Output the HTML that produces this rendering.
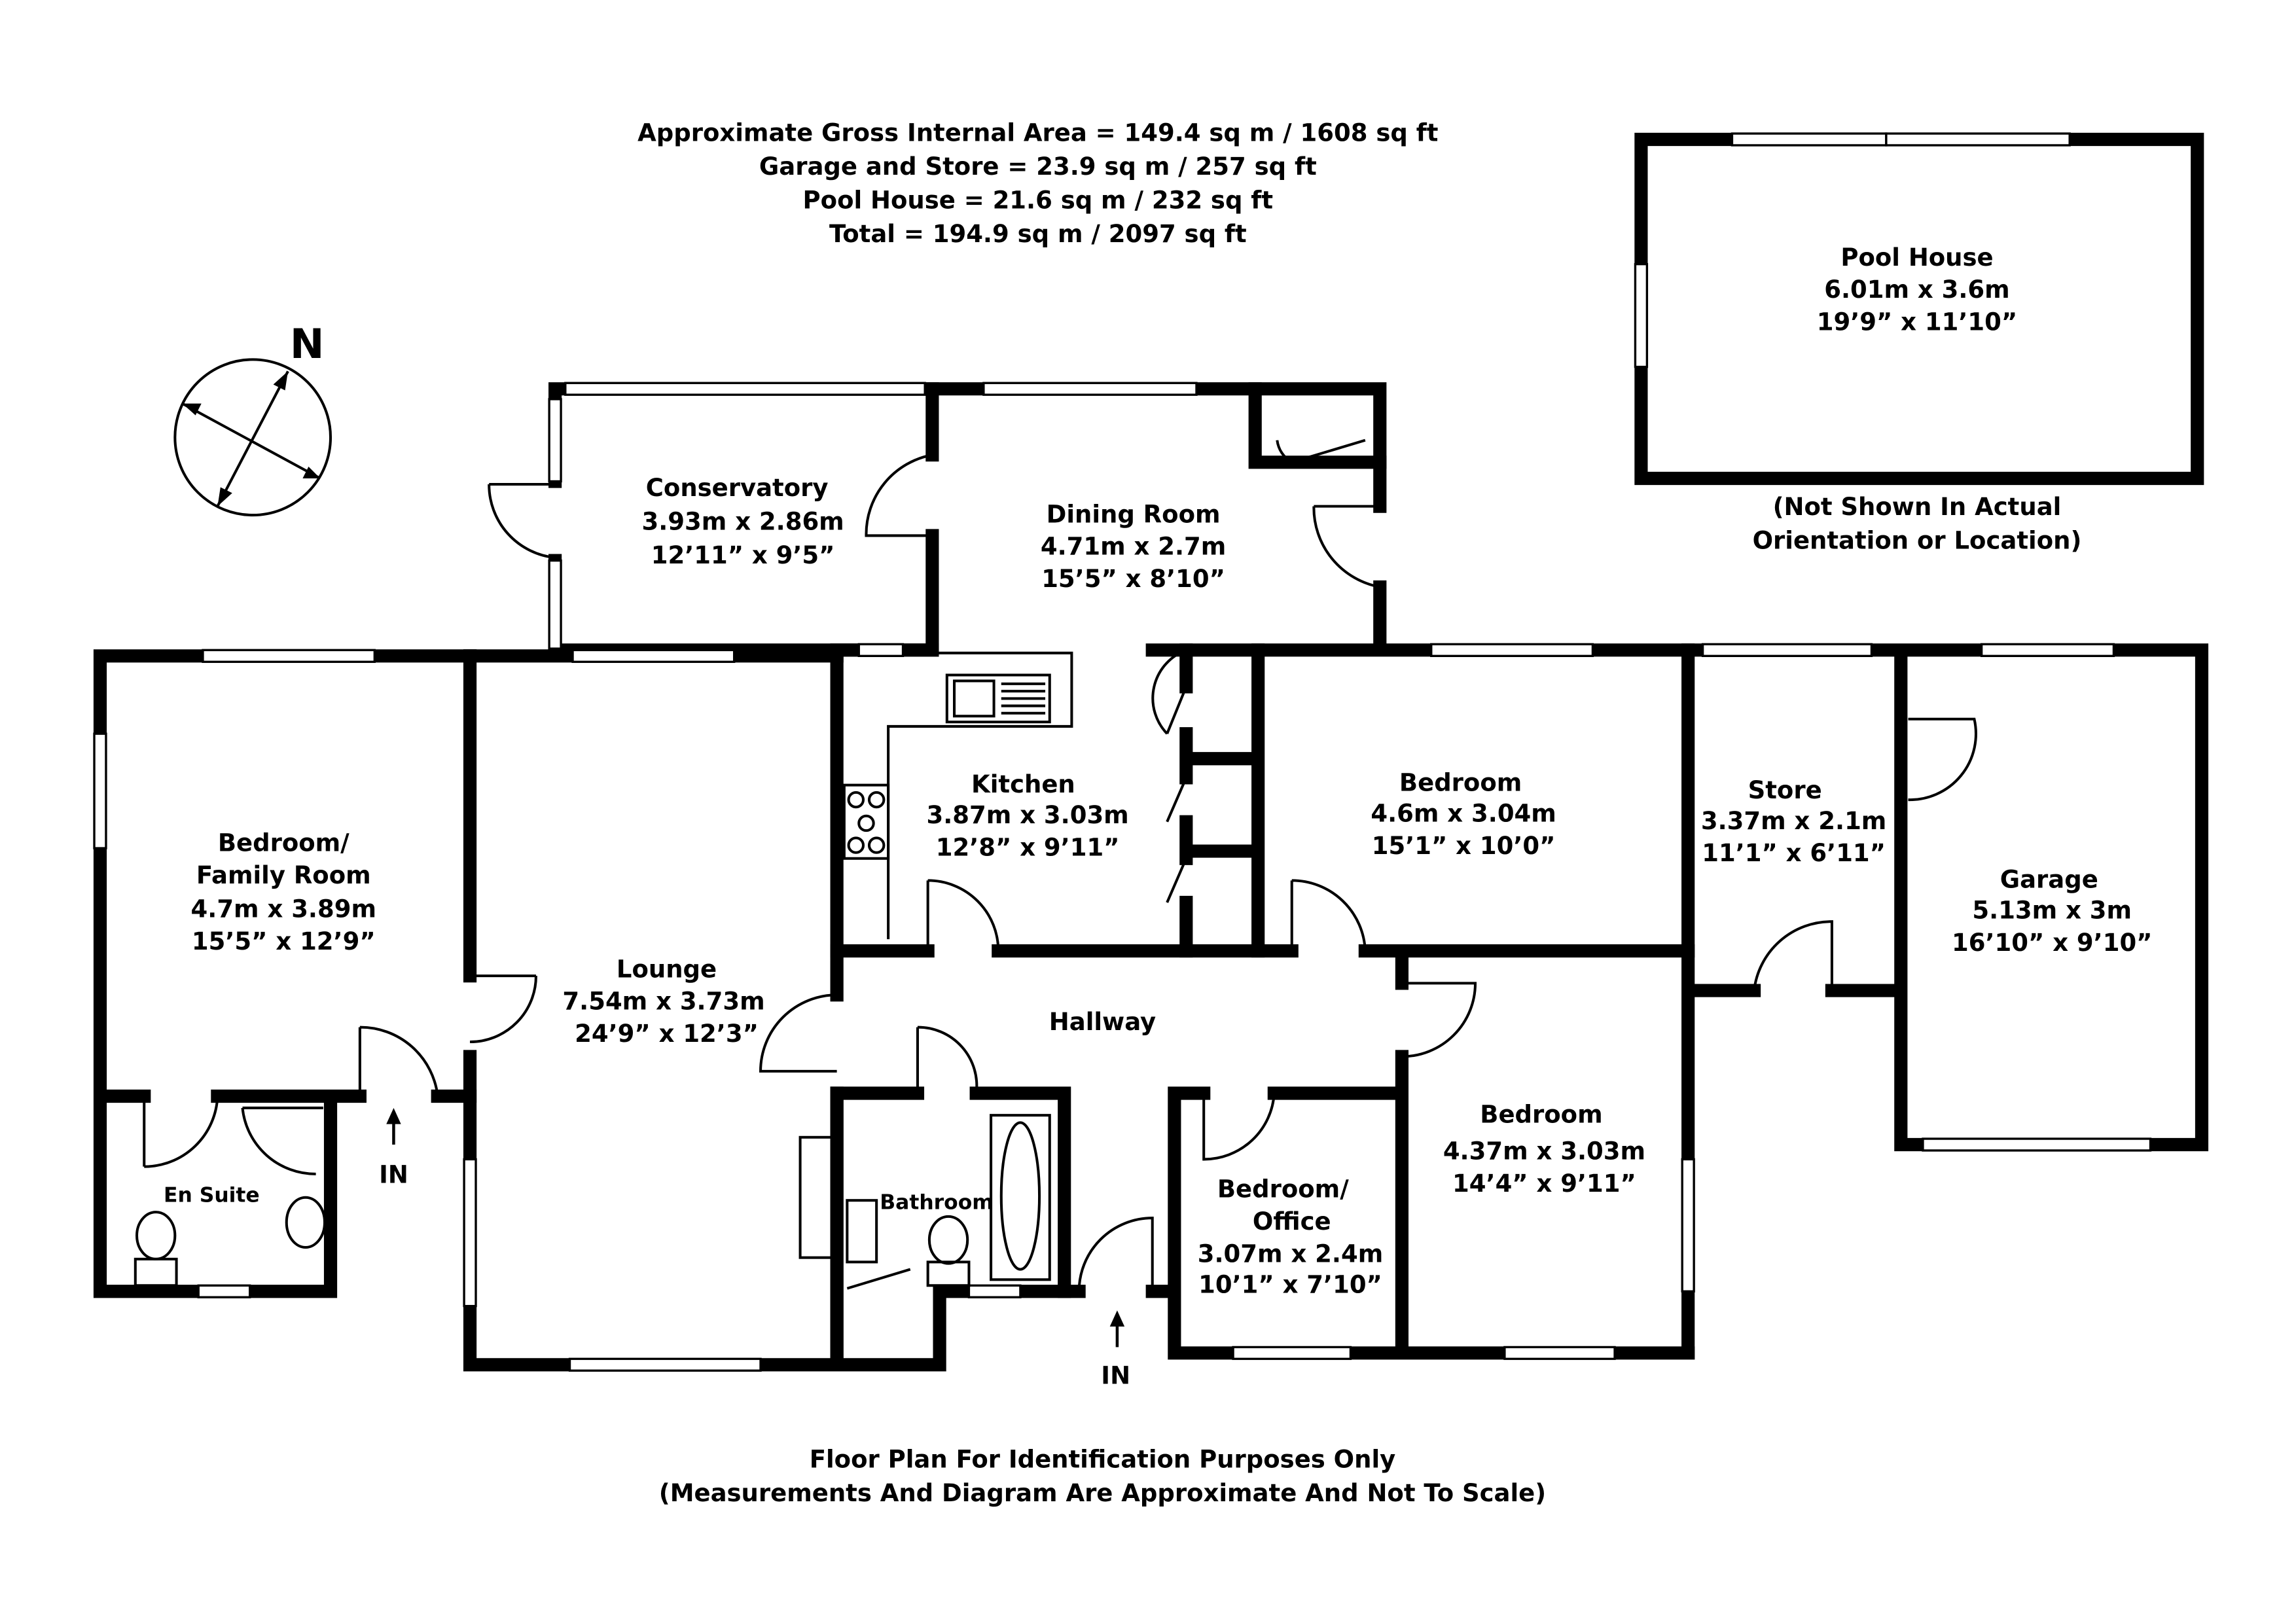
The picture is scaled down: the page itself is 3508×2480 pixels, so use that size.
<!DOCTYPE html>
<html><head><meta charset="utf-8"><style>
html,body{margin:0;padding:0;background:#fff}
svg{display:block}
text{font-family:"DejaVu Sans","Liberation Sans",sans-serif;font-weight:bold;fill:#000;text-anchor:middle}
</style></head><body>
<svg width="3508" height="2480" viewBox="0 0 1564 1106" xmlns="http://www.w3.org/2000/svg">
<rect width="1564" height="1106" fill="#fff"/>
<g stroke="#000" stroke-width="9" stroke-linecap="square" fill="none">
<path d="M68 447H320M68 447V880H225V747M68 747H98M148 747H245M298 747H320"/>
<path d="M320 447V665M320 720V930H570V745M570 447V650M570 650V678"/>
<path d="M320 447H570"/>
<path d="M378 265V328M378 382V443M378 265H635M378 443H635"/>
<path d="M635 265H940V345M940 400V443M635 265V310M635 365V443H570M785 443H1150"/>
<path d="M855 265V315H940"/>
<path d="M570 648H632M680 648H857M880 648H857M930 648H1150"/>
<path d="M857 443V648M808 443V468M808 500V530M808 560V585M808 615V648M808 517H853M808 580H853"/>
<path d="M1150 443V922M1150 675H1195M1248 675H1295M1150 443H1500V780H1295V443M1295 443V490M1295 545V675"/>
<path d="M570 745H625M665 745H725V880H640V930H570V745"/>
<path d="M725 880H735M785 880H800V922H1150M800 880V745H820M868 745H955M955 650V670M955 720V922"/>
<path d="M1118 95H1497V326H1118Z"/>
</g>
<g fill="#fff" stroke="#000" stroke-width="1.5">
<rect x="138" y="443" width="117" height="8"/>
<rect x="64" y="500" width="8" height="78"/>
<rect x="135" y="876" width="35" height="8"/>
<rect x="390" y="443" width="110" height="8"/>
<rect x="316" y="790" width="8" height="100"/>
<rect x="388" y="926" width="130" height="8"/>
<rect x="385" y="261" width="245" height="8"/>
<rect x="374" y="272" width="8" height="56"/>
<rect x="374" y="382" width="8" height="60"/>
<rect x="670" y="261" width="145" height="8"/>
<rect x="585" y="439" width="30" height="8"/>
<rect x="975" y="439" width="110" height="8"/>
<rect x="1160" y="439" width="115" height="8"/>
<rect x="1350" y="439" width="90" height="8"/>
<rect x="1310" y="776" width="155" height="8"/>
<rect x="660" y="876" width="35" height="8"/>
<rect x="840" y="918" width="80" height="8"/>
<rect x="1025" y="918" width="75" height="8"/>
<rect x="1146" y="790" width="8" height="90"/>
<rect x="1180" y="91" width="105" height="8"/>
<rect x="1285" y="91" width="125" height="8"/>
<rect x="1114" y="180" width="8" height="70"/>
</g>
<g stroke="#000" stroke-width="1.8" fill="none">
<path d="M320 665H365M365 665A45 45 0 0 1 320 710"/>
<path d="M245 700V747M245 700A53 53 0 0 1 298 747"/>
<path d="M98 747V795M98 795A50 50 0 0 0 148 747"/>
<path d="M165 755H220M165 755A50 50 0 0 0 215 800"/>
<path d="M378 330H333M333 330A50 50 0 0 0 378 380"/>
<path d="M635 310A55 55 0 0 0 590 365H635"/>
<path d="M940 345H895M895 345A55 55 0 0 0 940 400"/>
<path d="M880 315L930 300M880 315A20 20 0 0 1 870 300"/>
<path d="M632 600V648M632 600A48 48 0 0 1 680 648"/>
<path d="M880 600V648M880 600A50 50 0 0 1 930 648"/>
<path d="M1195 675A53 53 0 0 1 1248 628V675"/>
<path d="M1300 490H1345A45 45 0 0 1 1300 545"/>
<path d="M570 678A52 52 0 0 0 518 730H570"/>
<path d="M625 700V745M625 700A40 40 0 0 1 665 745"/>
<path d="M955 670H1005A50 50 0 0 1 955 720"/>
<path d="M735 880A50 50 0 0 1 785 830V880"/>
<path d="M820 745V790A48 48 0 0 0 868 745"/>
<path d="M808 468L795 500M808 530L795 560M808 585L795 615M808 443A35 35 0 0 0 795 500"/>
</g>
<g stroke="#000" stroke-width="1.8" fill="none">
<path d="M635 445H730V495H605V640"/>
<rect x="645" y="460" width="70" height="32"/>
<rect x="650" y="464" width="27" height="24"/>
<path d="M682 466H712M682 471H712M682 476H712M682 481H712M682 486H712"/>
<rect x="575" y="535" width="30" height="50"/>
<circle cx="583" cy="545" r="5"/><circle cx="597" cy="545" r="5"/>
<circle cx="583" cy="576" r="5"/><circle cx="597" cy="576" r="5"/><circle cx="590" cy="561" r="5"/>
<rect x="545" y="775" width="22" height="82"/>
<rect x="577" y="818" width="20" height="42"/>
<rect x="675" y="760" width="40" height="112"/>
<ellipse cx="695" cy="815" rx="13" ry="50"/>
<path d="M577 878L620 865"/>
<ellipse cx="646" cy="845" rx="13" ry="16"/><rect x="632" y="860" width="28" height="16"/>
<ellipse cx="106" cy="842" rx="13" ry="16"/><rect x="92" y="858" width="28" height="18"/>
<ellipse cx="208" cy="833" rx="13" ry="17"/>
<circle cx="172" cy="298" r="53"/>
<path d="M148 345L196 253M124 275L218 326"/>
</g>
<g fill="#000">
<path d="M196 253L186 262L194 266Z"/><path d="M148 345L150 332L158 336Z"/>
<path d="M124 275L137 275L133 283Z"/><path d="M218 326L206 326L210 318Z"/>
<path d="M268 755L263 766H273Z"/><rect x="267" y="765" width="2" height="15"/>
<path d="M761 893L756 904H766Z"/><rect x="760" y="903" width="2" height="15"/>
</g>
<g font-size="16.5">
<text x="707" y="96">Approximate Gross Internal Area = 149.4 sq m / 1608 sq ft</text>
<text x="707" y="119">Garage and Store = 23.9 sq m / 257 sq ft</text>
<text x="707" y="142">Pool House = 21.6 sq m / 232 sq ft</text>
<text x="707" y="165">Total = 194.9 sq m / 2097 sq ft</text>
<text x="1306" y="181">Pool House</text><text x="1306" y="203">6.01m x 3.6m</text><text x="1306" y="225">19’9” x 11’10”</text>
<text x="1306" y="351">(Not Shown In Actual</text><text x="1306" y="374">Orientation or Location)</text>
<text x="502" y="338">Conservatory</text><text x="506" y="361">3.93m x 2.86m</text><text x="506" y="384">12’11” x 9’5”</text>
<text x="772" y="356">Dining Room</text><text x="772" y="378">4.71m x 2.7m</text><text x="772" y="400">15’5” x 8’10”</text>
<text x="697" y="540">Kitchen</text><text x="700" y="561">3.87m x 3.03m</text><text x="700" y="583">12’8” x 9’11”</text>
<text x="995" y="539">Bedroom</text><text x="997" y="560">4.6m x 3.04m</text><text x="997" y="582">15’1” x 10’0”</text>
<text x="1216" y="544">Store</text><text x="1222" y="565">3.37m x 2.1m</text><text x="1222" y="587">11’1” x 6’11”</text>
<text x="1396" y="605">Garage</text><text x="1398" y="626">5.13m x 3m</text><text x="1398" y="648">16’10” x 9’10”</text>
<text x="193" y="580">Bedroom/</text><text x="193" y="602">Family Room</text><text x="193" y="625">4.7m x 3.89m</text><text x="193" y="647">15’5” x 12’9”</text>
<text x="454" y="666">Lounge</text><text x="452" y="688">7.54m x 3.73m</text><text x="454" y="710">24’9” x 12’3”</text>
<text x="751" y="702">Hallway</text>
<text x="1050" y="765">Bedroom</text><text x="1052" y="790">4.37m x 3.03m</text><text x="1052" y="812">14’4” x 9’11”</text>
<text x="874" y="816">Bedroom/</text><text x="880" y="838">Office</text><text x="879" y="860">3.07m x 2.4m</text><text x="879" y="881">10’1” x 7’10”</text>
<text x="268" y="806">IN</text><text x="760" y="943">IN</text>
<text x="751" y="1000">Floor Plan For Identification Purposes Only</text>
<text x="751" y="1023">(Measurements And Diagram Are Approximate And Not To Scale)</text>
</g>
<g font-size="14"><text x="144" y="819">En Suite</text><text x="638" y="824">Bathroom</text></g>
<text x="209" y="244" font-size="28">N</text>
</svg>
</body></html>
